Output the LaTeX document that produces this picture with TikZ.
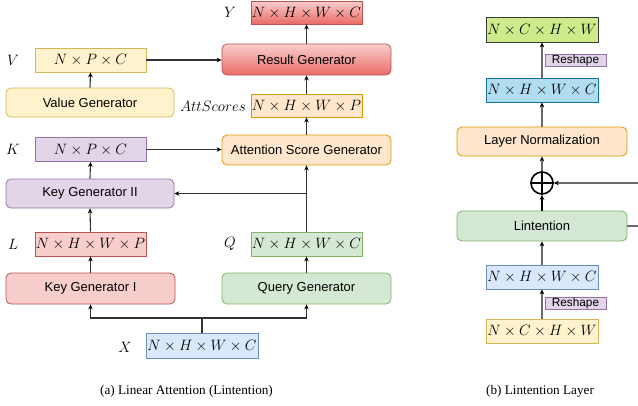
\documentclass[tikz,border=0pt]{standalone}
\usepackage{fix-cm}
\usepackage{fontspec}
\setmainfont{Liberation Serif}
\newfontfamily\arialf{Liberation Sans}
\usetikzlibrary{arrows.meta}
\definecolor{redF}{HTML}{F8CECC}\definecolor{redG}{HTML}{EA6B66}\definecolor{redD}{HTML}{B85450}
\definecolor{yelF}{HTML}{FFF2CC}\definecolor{yelD}{HTML}{D6B656}
\definecolor{purF}{HTML}{E1D5E7}\definecolor{purD}{HTML}{9673A6}
\definecolor{oraF}{HTML}{FFE6CC}\definecolor{oraD}{HTML}{D79B00}
\definecolor{greF}{HTML}{D5E8D4}\definecolor{greD}{HTML}{82B366}
\definecolor{bluF}{HTML}{DAE8FC}\definecolor{bluD}{HTML}{6C8EBF}
\definecolor{limF}{HTML}{CDEB8B}\definecolor{limD}{HTML}{36393D}
\definecolor{cyaF}{HTML}{B1DDF0}\definecolor{cyaD}{HTML}{10739E}
\definecolor{lineG}{HTML}{6A6A6A}
\definecolor{lineD}{HTML}{333333}
\newcommand{\msz}{\fontsize{15}{17}\selectfont}
\tikzset{
  dimbox/.style={draw, line width=0.8pt, inner sep=0pt, font=\msz},
  genbox/.style={draw, line width=0.8pt, rounded corners=5pt, inner sep=0pt, font=\arialf\fontsize{13}{15}\selectfont},
  redgrad/.style={top color=redF, bottom color=redG, draw=redD},
  lab/.style={font=\msz, inner sep=0pt},
  tagbox/.style={draw=purD, fill=purF, line width=0.8pt, inner sep=0pt, minimum width=61pt, minimum height=12pt, font=\arialf\fontsize{11.8}{12}\selectfont},
  arr/.style={-{Stealth[length=5pt,width=4.5pt,black]}, line width=1.1pt, lineD},
  garr/.style={-{Stealth[length=5pt,width=4.5pt,black]}, line width=1.5pt, lineG},
  captext/.style={font=\fontsize{13.2}{15}\selectfont, inner sep=0pt},
}
\begin{document}
\begin{tikzpicture}[x=1pt,y=-1pt]
\useasboundingbox (0,0) rectangle (638,405);
% ---- (a) ----
\node[dimbox, redgrad, minimum width=111pt, minimum height=23pt] (Y) at (306.5,12.5) {$N\times H\times W\times C$};
\node[genbox, redgrad, minimum width=169pt, minimum height=31pt] (RG) at (306.5,59.5) {Result Generator};
\node[dimbox, fill=yelF, draw=yelD, minimum width=111pt, minimum height=24pt] (V) at (90.5,60) {$N\times P\times C$};
\node[genbox, fill=yelF, draw=yelD, minimum width=168pt, minimum height=29pt] (VG) at (90,102.5) {Value Generator};
\node[dimbox, fill=oraF, draw=oraD, minimum width=111pt, minimum height=23pt] (A) at (306.5,105.5) {$N\times H\times W\times P$};
\node[dimbox, fill=purF, draw=purD, minimum width=111pt, minimum height=24pt] (K) at (90.5,149.5) {$N\times P\times C$};
\node[genbox, fill=oraF, draw=oraD, minimum width=169pt, minimum height=30pt] (ASG) at (306.5,150) {Attention Score Generator};
\node[genbox, fill=purF, draw=purD, minimum width=168pt, minimum height=29pt] (KG2) at (90,193.5) {Key Generator II};
\node[dimbox, fill=redF, draw=redD, minimum width=111pt, minimum height=24pt] (L) at (90.5,244) {$N\times H\times W\times P$};
\node[dimbox, fill=greF, draw=greD, minimum width=111pt, minimum height=24pt] (Q) at (306.5,244) {$N\times H\times W\times C$};
\node[genbox, fill=redF, draw=redD, minimum width=169pt, minimum height=31pt] (KG1) at (90.5,288.5) {Key Generator I};
\node[genbox, fill=greF, draw=greD, minimum width=169pt, minimum height=31pt] (QG) at (306.5,288.5) {Query Generator};
\node[dimbox, fill=bluF, draw=bluD, minimum width=112pt, minimum height=25pt] (X) at (202,345.5) {$N\times H\times W\times C$};

\node[lab] (lY) at (230,12) {$Y$};
\node[lab] (lV) at (13,60) {$V$};
\node[lab, anchor=east] (lA) at (246,106) {$AttScores$};
\node[lab] (lK) at (13,149.5) {$K$};
\node[lab] (lL) at (13,244) {$L$};
\node[lab] (lQ) at (230,244) {$Q$};
\node[lab] (lX) at (125,347) {$X$};

\draw[arr] (RG.north) -- (Y.south);
\draw[arr] (V.east) -- (V.east -| RG.west);
\draw[arr] (VG.north) -- (V.south);
\draw[arr] (A.north) -- (RG.south);
\draw[arr] (ASG.north) -- (A.south);
\draw[arr] (K.east) -- (K.east -| ASG.west);
\draw[arr] (KG2.north) -- (K.south);
\draw[arr] (L.north) -- (KG2.south);
\draw[arr] (KG1.north) -- (L.south);
\draw[arr] (Q.north) -- (ASG.south);
\draw[arr] (Q.north |- KG2.east) -- (KG2.east);
\draw[arr] (QG.north) -- (Q.south);
\coordinate (fork) at (202,318);
\draw[line width=1.4pt, lineD] (X.north) -- (fork);
\draw[arr] (fork) -| (KG1.south);
\draw[arr] (fork) -| (QG.south);

\node[captext] (capA) at (186.5,391) {(a) Linear Attention (Lintention)};

% ---- (b) ----
\node[dimbox, fill=limF, draw=limD, minimum width=112pt, minimum height=25pt] (O) at (542,29.5) {$N\times C\times H\times W$};
\node[tagbox] (R1) at (575.5,60) {Reshape};
\node[dimbox, fill=cyaF, draw=cyaD, minimum width=112pt, minimum height=24pt] (B1) at (542,90) {$N\times H\times W\times C$};
\node[genbox, fill=oraF, draw=oraD, minimum width=170pt, minimum height=29pt] (LN) at (542,141.5) {Layer Normalization};
\node[circle, draw, line width=1.6pt, minimum size=22pt, inner sep=0pt] (P) at (542,183) {};
\draw[line width=1.6pt] (P.north) -- (P.south) (P.west) -- (P.east);
\node[genbox, fill=greF, draw=greD, minimum width=170pt, minimum height=30pt] (LI) at (542,226) {Lintention};
\node[dimbox, fill=bluF, draw=bluD, minimum width=112pt, minimum height=24pt] (B2) at (542,277) {$N\times H\times W\times C$};
\node[tagbox] (R2) at (575.5,303) {Reshape};
\node[dimbox, fill=yelF, draw=yelD, minimum width=112pt, minimum height=24pt] (I) at (542,331) {$N\times C\times H\times W$};

\coordinate (res1) at (640,226);
\coordinate (res2) at (640,183);
\draw[garr] (I.north) -- (B2.south);
\draw[garr] (B2.north) -- (LI.south);
\draw[garr, black] (LI.north) -- (P.south);
\draw[garr] (P.north) -- (LN.south);
\draw[garr] (LN.north) -- (B1.south);
\draw[garr] (B1.north) -- (O.south);
\draw[lineG, line width=1.5pt] (LI.east) -- (res1);
\draw[garr] (res2) -- (P.east);

\node[captext] (capB) at (540,391) {(b) Lintention Layer};
\end{tikzpicture}
\end{document}
